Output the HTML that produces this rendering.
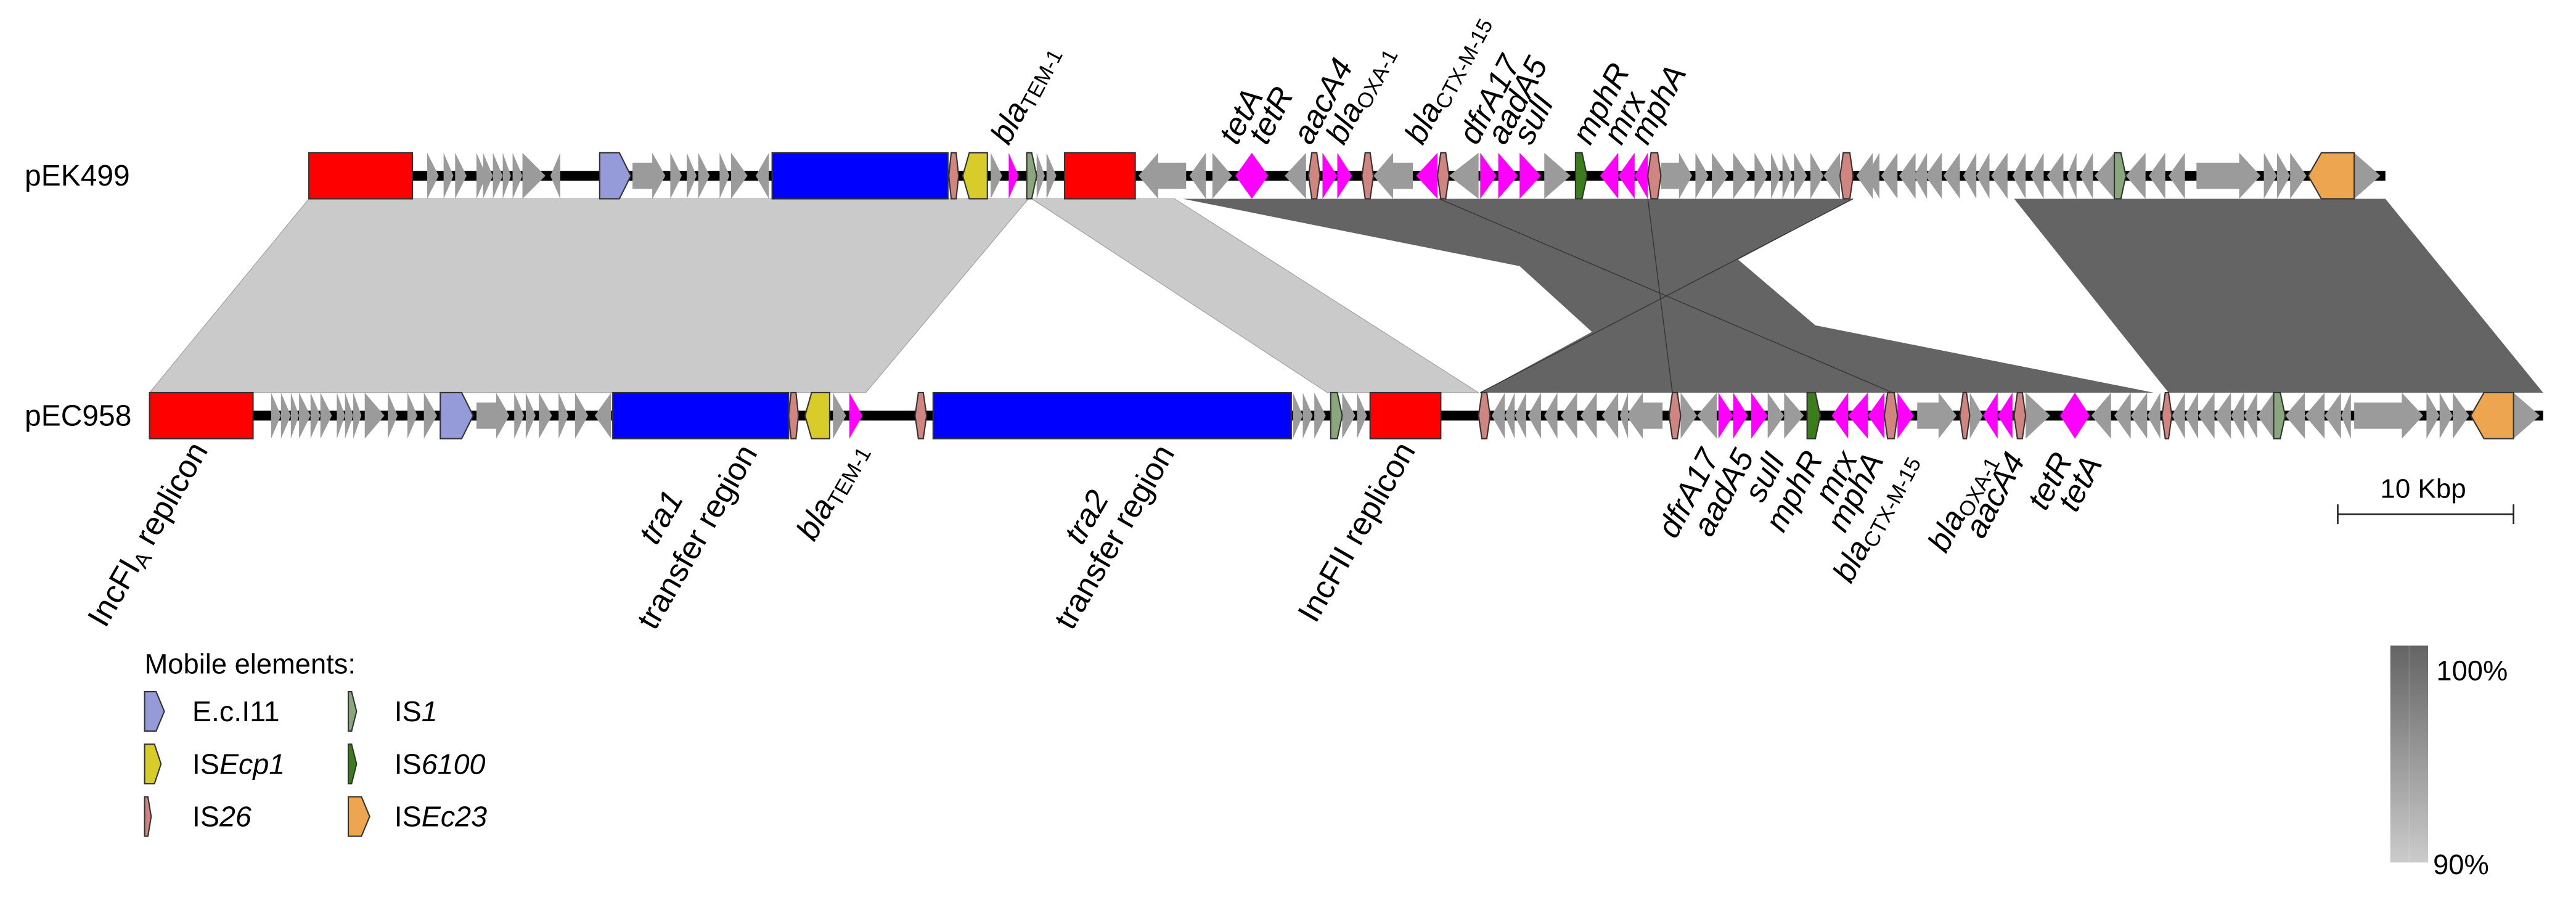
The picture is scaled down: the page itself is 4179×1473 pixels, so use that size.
<!DOCTYPE html>
<html><head><meta charset="utf-8"><style>
html,body{margin:0;padding:0;background:#fff}
svg{display:block}
text{font-family:"Liberation Sans",Arial,sans-serif;fill:#000}
.i{font-style:italic}
</style></head><body>
<svg width="4179" height="1473" viewBox="0 0 1568 552.7" xmlns="http://www.w3.org/2000/svg">
<defs>
<linearGradient id="g" x1="0" y1="0" x2="0" y2="1"><stop offset="0" stop-color="#646464"/><stop offset="1" stop-color="#cbcbcb"/></linearGradient>
</defs>
<polygon points="188,121 626,121 527,239 91,239" fill="#cacaca" stroke="#9a9a9a" stroke-width="0.4"/>
<polygon points="628,121 715,121 900,239 808,239" fill="#cacaca" stroke="#9a9a9a" stroke-width="0.4"/>
<polygon points="720,121 1128,121 1058,158 1105,198 1311,239 901,239 969,202 925,162" fill="#646464"/>
<polygon points="1226,121 1452,121 1548,239 1320,239" fill="#646464"/>
<g stroke="#333" stroke-width="0.5" fill="none">
<line x1="876" y1="121" x2="1152" y2="239"/>
<line x1="1003" y1="121" x2="1018" y2="239"/>
<line x1="1128" y1="121" x2="901" y2="239"/>
</g>
<rect x="188" y="104" width="1264" height="6" fill="#000"/>
<rect x="91" y="250" width="1457" height="6" fill="#000"/>
<path fill="#9b9b9b" d="M260 93l7 14-7 14zM270 93l6 14-6 14zM277 93l7 14-7 14zM290 93l6 14-6 14zM294 93l6 14-6 14zM300 93l6 14-6 14zM306 93l5 14-5 14zM312 93l6 14-6 14zM318 93l14 14-14 14zM341 93l-6 14 6 14z
M385 99H397V93L405 107 397 121V115H385zM408 93l7 14-7 14zM418 93l6 14-6 14zM425 93l7 14-7 14zM438 93l6 14-6 14zM445 93l10 14-10 14zM468 93l-8 14 8 14z
M603 93l7 14-7 14zM631 93l5 14-5 14zM637 93l6 14-6 14z
M722 99H705V93L693 107 705 121V115H722zM734 93l-10 14 10 14zM738 93l12 14-12 14zM795 93l-13 14 13 14z
M860 99H848V93L836 107 848 121V115H860zM900 93l-18 14 18 14zM940 93l16 14-16 14z
M1011 99H1022V93L1030 107 1022 121V115H1011zM1032 93l8 14-8 14zM1042 93l10 14-10 14zM1055 93l10 14-10 14zM1068 93l8 14-8 14zM1078 93l6 14-6 14zM1085 93l6 14-6 14zM1092 93l8 14-8 14zM1102 93l8 14-8 14zM1120 93l-10 14 10 14z
M1140 93l-10 14 10 14zM1144 93l-8 14 8 14zM1155 93l-10 14 10 14zM1166 93l-10 14 10 14zM1173 93l-8 14 8 14zM1182 93l-10 14 10 14zM1193 93l-10 14 10 14zM1203 93l-8 14 8 14zM1211 93l-8 14 8 14zM1222 93l-10 14 10 14zM1233 93l-8 14 8 14zM1244 93l-8 14 8 14zM1256 93l-10 14 10 14zM1264 93l-6 14 6 14zM1274 93l-8 14 8 14zM1287 93l-12 14 12 14z
M1306 93l-12 14 12 14zM1318 93l-10 14 10 14zM1330 93l-10 14 10 14z
M1337 99H1363V93L1376 107 1363 121V115H1337zM1378 93l8 14-8 14zM1386 93l8 14-8 14zM1394 93l10 14-10 14zM1433 93l16 14-16 14z"/>
<path fill="#9b9b9b" d="M165 239l6 14-6 14zM171 239l6 14-6 14zM177 239l5 14-5 14zM182 239l7 14-7 14zM189 239l6 14-6 14zM195 239l7 14-7 14zM205 239l5 14-5 14zM210 239l5 14-5 14zM215 239l5 14-5 14zM222 239l12 14-12 14zM236 239l6 14-6 14zM248 239l6 14-6 14zM258 239l8 14-8 14z
M290 245H302V239L310 253 302 267V261H290zM313 239l6 14-6 14zM320 239l6 14-6 14zM328 239l8 14-8 14zM340 239l6 14-6 14zM350 239l8 14-8 14zM372 239l-10 14 10 14zM507 239l8 14-8 14z
M787 239l6 14-6 14zM793 239l6 14-6 14zM800 239l7 14-7 14zM817 239l8 14-8 14zM826 239l6 14-6 14z
M916 239l-8 14 8 14zM922 239l-6 14 6 14zM929 239l-7 14 7 14zM938 239l-8 14 8 14zM948 239l-8 14 8 14zM960 239l-10 14 10 14zM972 239l-10 14 10 14zM985 239l-10 14 10 14zM991 239l-5 14 5 14zM1012 245H1000V239L990 253 1000 267V261H1012z
M1023 239l10 14-10 14zM1045 239l-12 14 12 14zM1076 239l10 14-10 14zM1086 239l12 14-12 14z
M1167 245H1180V239L1191 253 1180 267V261H1167zM1199 239l8 14-8 14zM1233 239l15 14-15 14zM1285 239l-12 14 12 14zM1297 239l-10 14 10 14zM1307 239l-10 14 10 14zM1315 239l-8 14 8 14z
M1330 239l-8 14 8 14zM1338 239l-8 14 8 14zM1348 239l-10 14 10 14zM1358 239l-10 14 10 14zM1366 239l-8 14 8 14zM1374 239l-8 14 8 14zM1384 239l-10 14 10 14z
M1403 239l-12 14 12 14zM1415 239l-12 14 12 14zM1425 239l-10 14 10 14zM1431 239l-6 14 6 14z
M1433 245H1462V239L1475 253 1462 267V261H1433zM1477 239l8 14-8 14zM1485 239l8 14-8 14zM1493 239l10 14-10 14zM1530 239l16 14-16 14z"/>
<path fill="#ff00ff" d="M614 93l6 14-6 14zM752 107L762 93 772 107 762 121zM805 93l9 14-9 14zM814 93l9 14-9 14zM875 93l-13 14 13 14zM901 93l10 14-10 14zM912 93l12 14-12 14zM925 93l13 14-13 14zM985 93l-11 14 11 14zM995 93l-10 14 10 14zM1003 93l-8 14 8 14z
M517 239l8 14-8 14zM1046 239l9 14-9 14zM1055 239l9 14-9 14zM1066 239l10 14-10 14zM1125 239l-10 14 10 14zM1137 239l-12 14 12 14zM1147 239l-10 14 10 14zM1155 239l10 14-10 14zM1216 239l-9 14 9 14zM1225 239l-9 14 9 14zM1254 253L1263 239 1272 253 1263 267z"/>
<g stroke="#333" stroke-width="0.8">
<rect x="188" y="93" width="63" height="28" fill="#ff0000"/>
<rect x="648" y="93" width="43" height="28" fill="#ff0000"/>
<rect x="91" y="239" width="63" height="28" fill="#ff0000"/>
<rect x="834" y="239" width="43" height="28" fill="#ff0000"/>
<rect x="470" y="93" width="107" height="28" fill="#0000ff"/>
<rect x="373" y="239" width="107" height="28" fill="#0000ff"/>
<rect x="568" y="239" width="218" height="28" fill="#0000ff"/>
<g fill="#d08580">
<path d="M579 93h3l1.5 14-1.5 14h-3l-1.5-14z"/>
<path d="M798.5 93h3l2 14-2 14h-3l-2-14z"/>
<path d="M831 93h3l2 14-2 14h-3l-2-14z"/>
<path d="M877 93h3l2 14-2 14h-3l-2-14z"/>
<path d="M1005 93h4l2 14-2 14h-4l-2-14z"/>
<path d="M1122 93h4l2 14-2 14h-4l-2-14z"/>
<path d="M481.5 239h3l1.5 14-1.5 14h-3l-1.5-14z"/>
<path d="M559 239h3l2 14-2 14h-3l-2-14z"/>
<path d="M902 239h3l2 14-2 14h-3l-2-14z"/>
<path d="M1018 239h3l2 14-2 14h-3l-2-14z"/>
<path d="M1149 239h4l2 14-2 14h-4l-2-14z"/>
<path d="M1195 239h2l2 14-2 14h-2l-2-14z"/>
<path d="M1228 239h3l2 14-2 14h-3l-2-14z"/>
<path d="M1318 239h2l2 14-2 14h-2l-2-14z"/>
</g>
<g fill="#8aa67c">
<path d="M625 93h3l3 14-3 14h-3z"/><path d="M810 239h4l3 14-3 14h-4z"/><path d="M1384 239h4l3 14-3 14h-4z"/><path d="M1287 93h4l3 14-3 14h-4z"/>
</g>
<g fill="#3a7d1a"><path d="M959 93h4l3 14-3 14h-4z"/><path d="M1100 239h5l3 14-3 14h-5z"/></g>
<g fill="#959bd8"><path d="M365 93h12l7 14-7 14h-12z"/><path d="M268 239h13l7 14-7 14h-13z"/></g>
<g fill="#d8cc2a"><path d="M601 93h-11l-4 14 4 14h11z"/><path d="M505 239h-11l-4 14 4 14h11z"/></g>
<g fill="#eea550"><path d="M1433 93h-20l-8 14 8 14h20z"/><path d="M1530 239h-18l-8 14 8 14h18z"/></g>
</g>
<text x="15" y="113" font-size="18">pEK499</text>
<text x="15" y="259" font-size="18">pEC958</text>
<g font-size="19.5" class="i">
<text transform="translate(614,89) rotate(-62)">bla<tspan font-size="13" font-style="normal" dy="3">TEM-1</tspan></text>
<text transform="translate(753,89) rotate(-62)">tetA</text>
<text transform="translate(771,89) rotate(-62)">tetR</text>
<text transform="translate(798,89) rotate(-62)">aacA4</text>
<text transform="translate(818,89) rotate(-62)">bla<tspan font-size="13" font-style="normal" dy="3">OXA-1</tspan></text>
<text transform="translate(866,89) rotate(-62)">bla<tspan font-size="13" font-style="normal" dy="3">CTX-M-15</tspan></text>
<text transform="translate(899,89) rotate(-62)">dfrA17</text>
<text transform="translate(916,89) rotate(-62)">aadA5</text>
<text transform="translate(932,89) rotate(-62)">sulI</text>
<text transform="translate(968,89) rotate(-62)">mphR</text>
<text transform="translate(987,89) rotate(-62)">mrx</text>
<text transform="translate(1003,89) rotate(-62)">mphA</text>
</g>
<g font-size="19.5" text-anchor="end">
<text transform="translate(127,274) rotate(-60)">IncFI<tspan font-size="13" dy="3">A</tspan><tspan dy="-3"> replicon</tspan></text>
<text transform="translate(862,274) rotate(-60)">IncFII replicon</text>
<text class="i" transform="translate(528,274) rotate(-60)">bla<tspan font-size="13" font-style="normal" dy="3">TEM-1</tspan></text>
<text class="i" transform="translate(1047,278) rotate(-62)">dfrA17</text>
<text class="i" transform="translate(1068,278) rotate(-62)">aadA5</text>
<text class="i" transform="translate(1087,280) rotate(-62)">sulI</text>
<text class="i" transform="translate(1110,279) rotate(-62)">mphR</text>
<text class="i" transform="translate(1131,279) rotate(-62)">mrx</text>
<text class="i" transform="translate(1147,280) rotate(-62)">mphA</text>
<text class="i" transform="translate(1167,280) rotate(-62)">bla<tspan font-size="13" font-style="normal" dy="3">CTX-M-15</tspan></text>
<text class="i" transform="translate(1215,280) rotate(-62)">bla<tspan font-size="13" font-style="normal" dy="3">OXA-1</tspan></text>
<text class="i" transform="translate(1233,280) rotate(-62)">aacA4</text>
<text class="i" transform="translate(1262,280) rotate(-62)">tetR</text>
<text class="i" transform="translate(1280,282) rotate(-62)">tetA</text>
</g>
<g font-size="19.5" text-anchor="middle">
<text class="i" transform="translate(408,318) rotate(-60)">tra1</text>
<text transform="translate(430,330) rotate(-60)">transfer region</text>
<text class="i" transform="translate(667,318) rotate(-60)">tra2</text>
<text transform="translate(684,330) rotate(-60)">transfer region</text>
</g>
<text x="1475" y="303" font-size="16.5" text-anchor="middle">10 Kbp</text>
<g stroke="#222" stroke-width="1"><line x1="1423" y1="313" x2="1530" y2="313"/><line x1="1423" y1="307" x2="1423" y2="319"/><line x1="1530" y1="307" x2="1530" y2="319"/></g>
<rect x="1455" y="393" width="23" height="132" fill="url(#g)"/>
<line x1="1466.5" y1="393" x2="1466.5" y2="525" stroke="#fff" stroke-opacity="0.15" stroke-width="0.6"/>
<text x="1483" y="414" font-size="17">100%</text>
<text x="1481" y="532" font-size="17">90%</text>
<text x="88" y="410" font-size="17">Mobile elements:</text>
<g stroke="#333" stroke-width="0.8">
<path d="M88 421h7l5 12-5 12h-7z" fill="#959bd8"/>
<path d="M88 453h6l4 12-4 12h-6z" fill="#d8cc2a"/>
<path d="M88 485h2l2 12-2 12h-2z" fill="#d08580"/>
<path d="M212 421h2l3 12-3 12h-2z" fill="#8aa67c"/>
<path d="M212 453h2l3 12-3 12h-2z" fill="#3a7d1a"/>
<path d="M212 485h8l5 12-5 12h-8z" fill="#eea550"/>
</g>
<g font-size="17.5">
<text x="117" y="439">E.c.I11</text>
<text x="117" y="471">IS<tspan class="i">Ecp1</tspan></text>
<text x="117" y="503">IS<tspan class="i">26</tspan></text>
<text x="240" y="439">IS<tspan class="i">1</tspan></text>
<text x="240" y="471">IS<tspan class="i">6100</tspan></text>
<text x="240" y="503">IS<tspan class="i">Ec23</tspan></text>
</g>
</svg>
</body></html>
